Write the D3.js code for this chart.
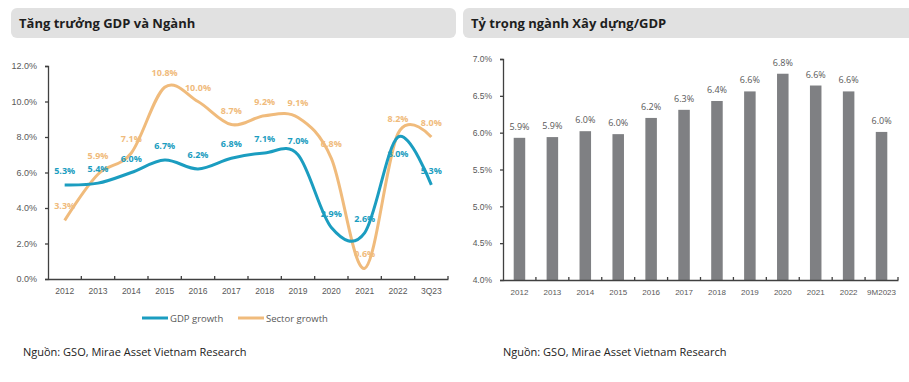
<!DOCTYPE html>
<html>
<head>
<meta charset="utf-8">
<script src="https://cdn.jsdelivr.net/npm/d3@7"></script>
<style>
  body { margin: 0; background: #fff; }
  svg { display: block; font-family: "Open Sans", sans-serif; }
</style>
</head>
<body>
<svg id="chart" width="909" height="382"></svg>
<script>
// left chart: growth lines
const years = ["2012","2013","2014","2015","2016","2017","2018","2019","2020","2021","2022","3Q23"];
const gdpGrowth = [5.3, 5.4, 6.0, 6.7, 6.2, 6.8, 7.1, 7.0, 2.9, 2.6, 8.0, 5.3];
const sectorGrowth = [3.3, 5.9, 7.1, 10.8, 10.0, 8.7, 9.2, 9.1, 6.8, 0.6, 8.2, 8.0];
const growthTicks = [0, 2, 4, 6, 8, 10, 12];

// right chart: share of construction in GDP
const shareYears = ["2012","2013","2014","2015","2016","2017","2018","2019","2020","2021","2022","9M2023"];
const shareValues = [5.93, 5.94, 6.02, 5.98, 6.2, 6.31, 6.43, 6.56, 6.8, 6.64, 6.56, 6.01];
const shareTicks = [4.0, 4.5, 5.0, 5.5, 6.0, 6.5, 7.0];

const blue = "#1b9dc0", orange = "#f0bb7c", axisCol = "#404040", textCol = "#595959";
const svg = d3.select("#chart");

// title bars
function titleBar(x, w, label) {
  svg.append("rect").attr("x", x).attr("y", 8).attr("width", w).attr("height", 30)
    .attr("rx", 6).attr("fill", "#e1e1e1");
  svg.append("text").attr("x", x + 8).attr("y", 28).text(label)
    .attr("font-size", 13).attr("font-weight", "bold").attr("fill", "#1e1e1e");
}
titleBar(11, 445, "Tăng trưởng GDP và Ngành");
titleBar(463, 460, "Tỷ trọng ngành Xây dựng/GDP");

// ---- left chart ----
const x1 = d3.scaleBand().domain(years).range([48, 448]);
const y1 = d3.scaleLinear().domain([0, 12]).range([279, 66]);

const gL = svg.append("g");
gL.append("g").attr("transform", "translate(48,0)")
  .call(d3.axisLeft(y1).tickValues(growthTicks).tickSize(3).tickFormat(d => d.toFixed(1) + "%"))
  .call(g => g.selectAll("text").attr("font-size", 9).attr("fill", textCol).attr("x", -11))
  .call(g => g.selectAll("line,path").attr("stroke", axisCol).attr("stroke-width", 1.3));

const xAx1 = gL.append("g").attr("transform", "translate(0,279)")
  .call(d3.axisBottom(x1).tickSize(0).tickPadding(9))
  .call(g => g.selectAll("text").attr("font-size", 8.5).attr("fill", textCol))
  .call(g => g.select("path").attr("stroke", axisCol).attr("stroke-width", 1.3));
// ticks between categories, pointing up
xAx1.selectAll(".sep").data(years).enter().append("line")
  .attr("x1", d => x1(d) + x1.bandwidth()).attr("x2", d => x1(d) + x1.bandwidth())
  .attr("y1", 0).attr("y2", -3).attr("stroke", axisCol).attr("stroke-width", 1.3);

// Excel-style smoothing (uniform Catmull-Rom)
const line = d3.line()
  .x((d, i) => x1(years[i]) + x1.bandwidth() / 2)
  .y(d => y1(d))
  .curve(d3.curveCardinal.tension(0));

gL.append("path").datum(sectorGrowth).attr("d", line)
  .attr("fill", "none").attr("stroke", orange).attr("stroke-width", 3);
gL.append("path").datum(gdpGrowth).attr("d", line)
  .attr("fill", "none").attr("stroke", blue).attr("stroke-width", 3);

function pointLabels(vals, col, below, raise) {
  gL.selectAll(null).data(vals).enter().append("text")
    .attr("x", (d, i) => x1(years[i]) + x1.bandwidth() / 2)
    .attr("y", (d, i) => below.includes(years[i]) ? y1(d) + 20
      : y1(d) - 11 - (raise.includes(years[i]) ? 4 : 0))
    .attr("text-anchor", "middle")
    .attr("font-size", 9).attr("font-weight", "bold").attr("fill", col)
    .text(d => d.toFixed(1) + "%");
}
pointLabels(sectorGrowth, orange, [], ["2013"]);
pointLabels(gdpGrowth, blue, ["2022"], []);

// legend
const legend = [{ name: "GDP growth", col: blue, x: 142 }, { name: "Sector growth", col: orange, x: 238 }];
legend.forEach(l => {
  gL.append("line").attr("x1", l.x).attr("x2", l.x + 26).attr("y1", 318).attr("y2", 318)
    .attr("stroke", l.col).attr("stroke-width", 3);
  gL.append("text").attr("x", l.x + 28).attr("y", 321.5).text(l.name)
    .attr("font-size", 9.5).attr("fill", textCol);
});

gL.append("text").attr("x", 23).attr("y", 356).text("Nguồn: GSO, Mirae Asset Vietnam Research")
  .attr("font-size", 11).attr("fill", "#222");

// ---- right chart ----
const x2 = d3.scaleBand().domain(shareYears).range([503, 898]).paddingInner(0.65).paddingOuter(0.325);
const xb2 = d3.scaleBand().domain(shareYears).range([503, 898]);
const y2 = d3.scaleLinear().domain([4, 7]).range([280, 59]);

const gR = svg.append("g");
gR.selectAll("rect.bar").data(shareValues).enter().append("rect")
  .attr("class", "bar")
  .attr("x", (d, i) => x2(shareYears[i]))
  .attr("width", x2.bandwidth())
  .attr("y", d => y2(d))
  .attr("height", d => y2(4) - y2(d))
  .attr("fill", "#7f8083");

gR.selectAll("text.val").data(shareValues).enter().append("text")
  .attr("class", "val")
  .attr("x", (d, i) => x2(shareYears[i]) + x2.bandwidth() / 2)
  .attr("y", d => y2(d) - 8)
  .attr("text-anchor", "middle")
  .attr("font-size", 9).attr("fill", textCol)
  .text(d => d.toFixed(1) + "%");

gR.append("g").attr("transform", "translate(503,0)")
  .call(d3.axisLeft(y2).tickValues(shareTicks).tickSize(3).tickFormat(d => d.toFixed(1) + "%"))
  .call(g => g.selectAll("text").attr("font-size", 8.5).attr("fill", textCol).attr("x", -11))
  .call(g => g.selectAll("line,path").attr("stroke", axisCol).attr("stroke-width", 1.3));

const xAx2 = gR.append("g").attr("transform", "translate(0,280)")
  .call(d3.axisBottom(xb2).tickSize(0).tickPadding(9))
  .call(g => g.selectAll("text").attr("font-size", 8).attr("fill", textCol))
  .call(g => g.select("path").attr("stroke", axisCol).attr("stroke-width", 1.3));
xAx2.selectAll(".sep").data(shareYears).enter().append("line")
  .attr("x1", d => xb2(d) + xb2.bandwidth()).attr("x2", d => xb2(d) + xb2.bandwidth())
  .attr("y1", 0).attr("y2", -3).attr("stroke", axisCol).attr("stroke-width", 1.3);

gR.append("text").attr("x", 503).attr("y", 356).text("Nguồn: GSO, Mirae Asset Vietnam Research")
  .attr("font-size", 11).attr("fill", "#222");
</script>
</body>
</html>
